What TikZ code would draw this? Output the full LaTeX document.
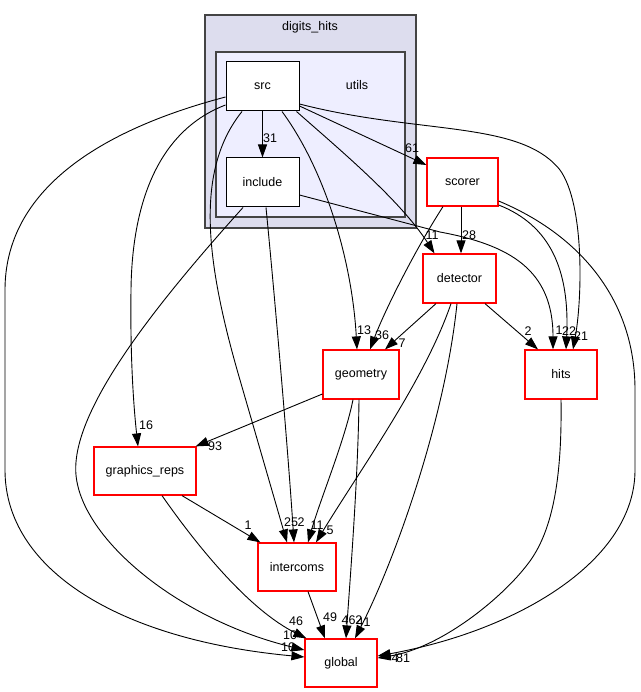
\documentclass[tikz,border=0pt]{standalone}
\usepackage{fontspec}
\setmainfont{Liberation Sans}
\usetikzlibrary{arrows.meta}
\definecolor{clusterA}{HTML}{DDDDEE}
\definecolor{clusterB}{HTML}{EEEEFF}
\definecolor{clusterLine}{HTML}{444444}
\begin{document}
\begin{tikzpicture}[x=1pt,y=-1pt,
  every node/.style={font=\fontsize{12.5}{14}\selectfont, inner sep=0pt},
  outerclu/.style={draw=clusterLine, fill=clusterA, line width=1.5pt},
  innerclu/.style={draw=clusterLine, fill=clusterB, line width=1.5pt},
  blackbox/.style={draw=black, fill=white, line width=1pt},
  redbox/.style={draw=red, fill=white, line width=1.2pt},
  dep/.style={draw=black, line width=0.9pt, -{Triangle[length=13pt,width=9pt]}},
  lbl/.style={inner sep=0pt}]
\useasboundingbox (0,0) rectangle (640,692);
\fill[white] (0,0) rectangle (640,692);
% clusters
\node[outerclu, minimum width=211pt, minimum height=213pt] (digits) at (310.5,121.5) {};
\node (digitslbl) at (310,27) {digits\_hits};
\node[innerclu, minimum width=189pt, minimum height=165pt] (utils) at (310.5,134.5) {};
\node (utilslbl) at (357,85) {utils};
% nodes
\node[blackbox, minimum width=73pt, minimum height=49pt] (src) at (262.5,86.5) {src};
\node[blackbox, minimum width=73pt, minimum height=49pt] (include) at (262.5,182.5) {include};
\node[redbox, minimum width=71pt, minimum height=48pt] (scorer) at (462.5,182) {scorer};
\node[redbox, minimum width=73pt, minimum height=49pt] (detector) at (459.5,278.5) {detector};
\node[redbox, minimum width=76pt, minimum height=49pt] (geometry) at (361,374.5) {geometry};
\node[redbox, minimum width=72pt, minimum height=49pt] (hits) at (561,374.5) {hits};
\node[redbox, minimum width=102pt, minimum height=48pt] (graphics) at (145,471) {graphics\_reps};
\node[redbox, minimum width=78pt, minimum height=48pt] (intercoms) at (297,567) {intercoms};
\node[redbox, minimum width=72pt, minimum height=48pt] (global) at (341,663) {global};
% edges from src
\draw[dep] (src.south) -- (include.north);
\draw[dep] ([yshift=-19.5pt]src.east) -- ([yshift=17pt]scorer.west);
\draw[dep] ([yshift=-17.5pt]src.east) .. controls (420,135) and (520,120) .. (560,170) .. controls (585,205) and (582,300) .. ([xshift=12pt]hits.north);
\draw[dep] ([xshift=34pt]src.south) .. controls (340,150) and (400,200) .. ([xshift=-25pt]detector.north);
\draw[dep] ([xshift=19.5pt]src.south) .. controls (325,170) and (352,260) .. ([xshift=-4pt]geometry.north);
\draw[dep] ([xshift=-20.5pt]src.south) .. controls (195,170) and (205,260) .. (240,380) -- ([xshift=-10pt]intercoms.north);
\draw[dep] ([yshift=-18.5pt]src.west) .. controls (160,130) and (132,200) .. (131,290) .. controls (130,360) and (134,410) .. ([xshift=-7pt]graphics.north);
\draw[dep] ([yshift=-10.5pt]src.west) .. controls (100,130) and (5,190) .. (5,290) -- (5,470) .. controls (5,570) and (120,640) .. ([yshift=6pt]global.west);
% edges from include
\draw[dep] ([yshift=-12.5pt]include.east) -- (440,232) .. controls (510,245) and (553,270) .. ([xshift=-8pt]hits.north);
\draw[dep] ([xshift=3.5pt]include.south) .. controls (275,300) and (288,450) .. ([xshift=-3pt]intercoms.north);
\draw[dep] ([xshift=-19.5pt]include.south) .. controls (160,300) and (70,410) .. (76,475) .. controls (82,540) and (180,620) .. ([yshift=13pt]global.west);
% edges from scorer
\draw[dep] ([xshift=-1.5pt]scorer.south) -- ([xshift=1.5pt]detector.north);
\draw[dep] ([xshift=-19.5pt]scorer.south) .. controls (415,250) and (385,310) .. ([xshift=9pt]geometry.north);
\draw[dep] ([yshift=-23pt]scorer.east) .. controls (550,225) and (570,270) .. ([xshift=5pt]hits.north);
\draw[dep] ([yshift=-19pt]scorer.east) .. controls (580,235) and (635,300) .. (635,390) -- (635,470) .. controls (635,560) and (520,630) .. ([yshift=7pt]global.east);
% edges from detector
\draw[dep] ([xshift=-23.5pt]detector.south) -- ([xshift=24pt]geometry.north);
\draw[dep] ([xshift=25.5pt]detector.south) -- ([xshift=-23pt]hits.north);
\draw[dep] ([xshift=-8.5pt]detector.south) .. controls (425,380) and (360,470) .. ([xshift=19pt]intercoms.north);
\draw[dep] ([xshift=-2.5pt]detector.south) .. controls (445,420) and (395,560) .. ([xshift=14pt]global.north);
% edges from geometry
\draw[dep] ([yshift=-19.5pt]geometry.west) -- ([xshift=-1pt]graphics.north east);
\draw[dep] ([xshift=-8pt]geometry.south) .. controls (345,440) and (320,500) .. ([xshift=11pt]intercoms.north);
\draw[dep] ([xshift=-2pt]geometry.south) .. controls (358,480) and (350,580) .. ([xshift=5pt]global.north);
% edges from hits
\draw[dep] (hits.south) .. controls (562,470) and (555,530) .. (527,565) .. controls (500,600) and (440,648) .. ([yshift=5pt]global.east);
% edges from graphics_reps
\draw[dep] ([xshift=37pt]graphics.south) -- ([xshift=3pt]intercoms.north west);
\draw[dep] ([xshift=17pt]graphics.south) .. controls (200,550) and (250,610) .. ([xshift=2pt]global.north west);
% edge from intercoms
\draw[dep] ([xshift=11pt]intercoms.south) -- ([xshift=-16pt]global.north);
% labels
\node[lbl] (l31) at (270,138) {31};
\node[lbl] (l61) at (412,148) {61};
\node[lbl] (l11a) at (432,235) {11};
\node[lbl] (l28) at (469,235) {28};
\node[lbl] (l13) at (364,330) {13};
\node[lbl] (l36) at (382,335) {36};
\node[lbl] (l7) at (402,343) {7};
\node[lbl] (l2a) at (528,331) {2};
\node[lbl] (l1a) at (559,330) {1};
\node[lbl] (l22) at (569,331) {22};
\node[lbl] (l21) at (581,336) {21};
\node[lbl] (l16) at (146,425) {16};
\node[lbl] (l93) at (215,446) {93};
\node[lbl] (l1b) at (248,525) {1};
\node[lbl] (l25) at (291,522) {25};
\node[lbl] (l2b) at (301,522) {2};
\node[lbl] (l11b) at (317,525) {11};
\node[lbl] (l5) at (330,530) {5};
\node[lbl] (l49) at (330,617) {49};
\node[lbl] (l462) at (352,620) {462};
\node[lbl] (l41) at (363.5,622) {41};
\node[lbl] (l46) at (296,621) {46};
\node[lbl] (l10a) at (290,635) {10};
\node[lbl] (l10b) at (288,647) {10};
\node[lbl] (l4) at (395,658) {4};
\node[lbl] (l81) at (403,658) {81};
\end{tikzpicture}
\end{document}
